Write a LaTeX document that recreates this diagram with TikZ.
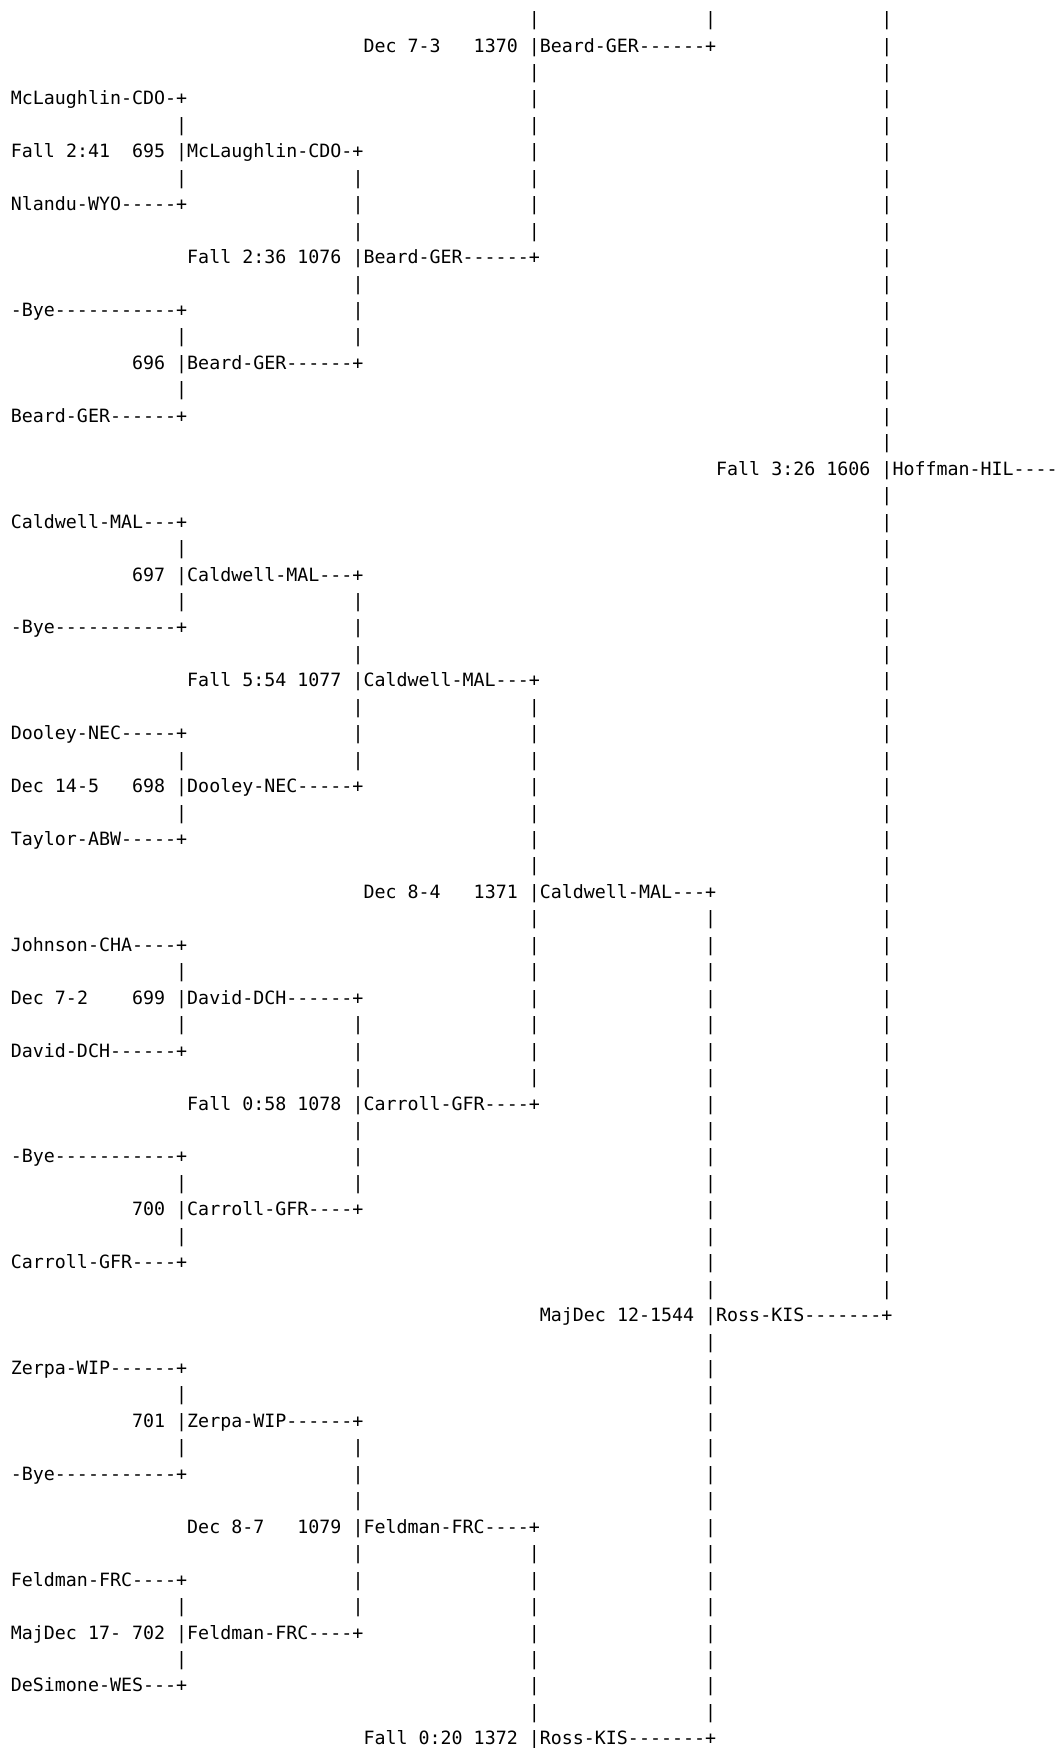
\documentclass[tikz,border=0pt]{standalone}
\usepackage{fontspec}
\setmonofont{DejaVu Sans Mono}[WordSpace={1,0,0},PunctuationSpace=WordSpace]
\tikzset{txt/.style={anchor=base west,inner sep=0pt,outer sep=0pt,
  font=\ttfamily\fontsize{18.3pt}{26pt}\selectfont,text=black}}
% name, row, column, text
\newcommand\seg[4]{\node[txt] (#1) at ({10.9pt+#3*11.02pt},{-25.55pt-#2*26.45pt}) {#4};}
\begin{document}
\begin{tikzpicture}
\useasboundingbox (0,0) rectangle (1060pt,-1748pt);
% ---- vertical connector runs ----
\foreach \r in {4,6,12,14,20,22,28,30,36,38,44,46,52,54,60,62} {\seg{va-\r}{\r}{15}{|}}
\foreach \r in {6,7,8,10,11,12,22,23,24,26,27,28,38,39,40,42,43,44,54,55,56,58,59,60} {\seg{vb-\r}{\r}{31}{|}}
\foreach \r in {0,2,3,4,5,6,7,8,26,27,28,29,30,31,32,34,35,36,37,38,39,40,58,59,60,61,62,63,64} {\seg{vc-\r}{\r}{47}{|}}
\foreach \r in {0,34,35,36,37,38,39,40,41,42,43,44,45,46,47,48,50,51,52,53,54,55,56,57,58,59,60,61,62,63,64} {\seg{vd-\r}{\r}{63}{|}}
\foreach \r in {0,1,...,16,18,19,...,48} {\seg{ve-\r}{\r}{79}{|}}
% ---- row texts ----
\seg{r1a}{1}{32}{Dec}\seg{r1b}{1}{36}{7-3}\seg{r1c}{1}{42}{1370}\seg{r1d}{1}{47}{|Beard-GER------+}
\seg{r3a}{3}{0}{McLaughlin-CDO-+}
\seg{r5a}{5}{0}{Fall}\seg{r5b}{5}{5}{2:41}\seg{r5c}{5}{11}{695}\seg{r5d}{5}{15}{|McLaughlin-CDO-+}
\seg{r7a}{7}{0}{Nlandu-WYO-----+}
\seg{r9a}{9}{16}{Fall}\seg{r9b}{9}{21}{2:36}\seg{r9c}{9}{26}{1076}\seg{r9d}{9}{31}{|Beard-GER------+}
\seg{r11a}{11}{0}{-Bye-----------+}
\seg{r13c}{13}{11}{696}\seg{r13d}{13}{15}{|Beard-GER------+}
\seg{r15a}{15}{0}{Beard-GER------+}
\seg{r17a}{17}{64}{Fall}\seg{r17b}{17}{69}{3:26}\seg{r17c}{17}{74}{1606}\seg{r17d}{17}{79}{|Hoffman-HIL----}
\seg{r19a}{19}{0}{Caldwell-MAL---+}
\seg{r21c}{21}{11}{697}\seg{r21d}{21}{15}{|Caldwell-MAL---+}
\seg{r23a}{23}{0}{-Bye-----------+}
\seg{r25a}{25}{16}{Fall}\seg{r25b}{25}{21}{5:54}\seg{r25c}{25}{26}{1077}\seg{r25d}{25}{31}{|Caldwell-MAL---+}
\seg{r27a}{27}{0}{Dooley-NEC-----+}
\seg{r29a}{29}{0}{Dec}\seg{r29b}{29}{4}{14-5}\seg{r29c}{29}{11}{698}\seg{r29d}{29}{15}{|Dooley-NEC-----+}
\seg{r31a}{31}{0}{Taylor-ABW-----+}
\seg{r33a}{33}{32}{Dec}\seg{r33b}{33}{36}{8-4}\seg{r33c}{33}{42}{1371}\seg{r33d}{33}{47}{|Caldwell-MAL---+}
\seg{r35a}{35}{0}{Johnson-CHA----+}
\seg{r37a}{37}{0}{Dec}\seg{r37b}{37}{4}{7-2}\seg{r37c}{37}{11}{699}\seg{r37d}{37}{15}{|David-DCH------+}
\seg{r39a}{39}{0}{David-DCH------+}
\seg{r41a}{41}{16}{Fall}\seg{r41b}{41}{21}{0:58}\seg{r41c}{41}{26}{1078}\seg{r41d}{41}{31}{|Carroll-GFR----+}
\seg{r43a}{43}{0}{-Bye-----------+}
\seg{r45c}{45}{11}{700}\seg{r45d}{45}{15}{|Carroll-GFR----+}
\seg{r47a}{47}{0}{Carroll-GFR----+}
\seg{r49a}{49}{48}{MajDec}\seg{r49b}{49}{55}{12-1544}\seg{r49d}{49}{63}{|Ross-KIS-------+}
\seg{r51a}{51}{0}{Zerpa-WIP------+}
\seg{r53c}{53}{11}{701}\seg{r53d}{53}{15}{|Zerpa-WIP------+}
\seg{r55a}{55}{0}{-Bye-----------+}
\seg{r57a}{57}{16}{Dec}\seg{r57b}{57}{20}{8-7}\seg{r57c}{57}{26}{1079}\seg{r57d}{57}{31}{|Feldman-FRC----+}
\seg{r59a}{59}{0}{Feldman-FRC----+}
\seg{r61a}{61}{0}{MajDec}\seg{r61b}{61}{7}{17-}\seg{r61c}{61}{11}{702}\seg{r61d}{61}{15}{|Feldman-FRC----+}
\seg{r63a}{63}{0}{DeSimone-WES---+}
\seg{r65a}{65}{32}{Fall}\seg{r65b}{65}{37}{0:20}\seg{r65c}{65}{42}{1372}\seg{r65d}{65}{47}{|Ross-KIS-------+}
\end{tikzpicture}
\end{document}
